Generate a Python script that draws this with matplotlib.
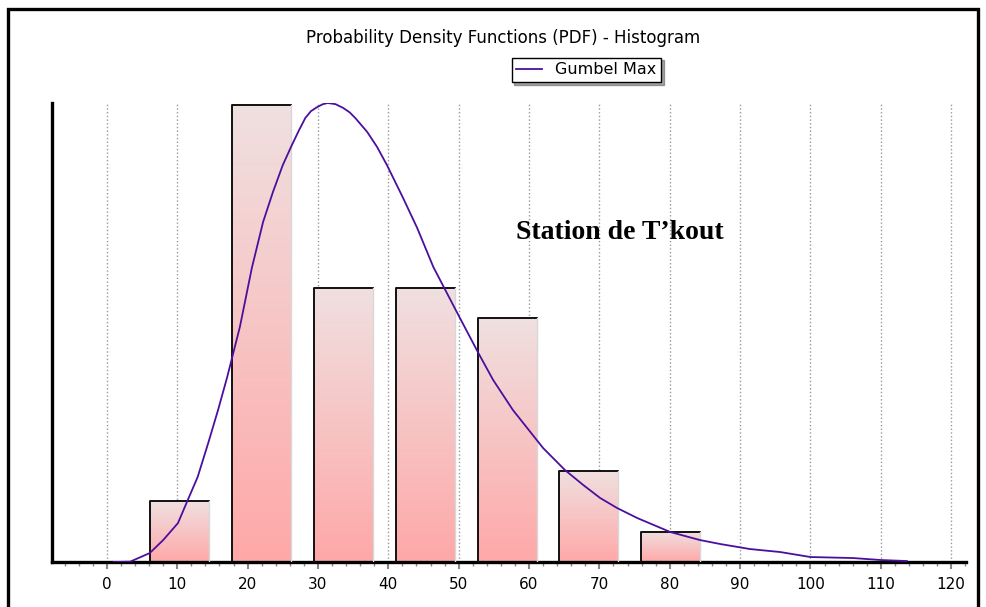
import numpy as np
import matplotlib
matplotlib.use("Agg")
import matplotlib.pyplot as plt
from matplotlib.patches import Rectangle
from matplotlib.ticker import MultipleLocator


# histogram bins (centres) and densities
bin_centers = [10.35, 22.0, 33.65, 45.3, 56.9, 68.5, 80.1]
bin_density = [0.00366, 0.02747, 0.01648, 0.01648, 0.01465, 0.00549, 0.00183]
bar_width = 8.4

# Gumbel Max pdf curve
curve_x = [1.0, 3.3, 6.1, 8.0, 10.1, 11.5, 12.9, 14.4, 15.8, 17.1, 18.9, 20.6,
           22.2, 23.6, 25.0, 26.3, 27.3, 28.2, 29.0, 29.9, 30.7, 31.4, 32.5,
           33.6, 34.5, 35.3, 37.0, 38.4, 39.8, 42.1, 44.1, 46.4, 49.8, 52.8,
           54.9, 57.7, 62.0, 65.1, 67.7, 70.1, 72.5, 75.4, 80.1, 84.3, 87.2,
           91.4, 95.7, 100.0, 106.0, 110.0, 113.7]
curve_y = [0.0, 0.00002, 0.00054, 0.00132, 0.00234, 0.00373, 0.00511, 0.00715,
           0.00914, 0.01112, 0.01413, 0.01767, 0.02044, 0.02224, 0.02386,
           0.02507, 0.02595, 0.02669, 0.02710, 0.02735, 0.02752, 0.02759,
           0.02752, 0.02729, 0.02703, 0.02669, 0.02585, 0.02495, 0.02386,
           0.02188, 0.02008, 0.01773, 0.01497, 0.01256, 0.01094, 0.00914,
           0.00685, 0.00553, 0.00463, 0.00385, 0.00325, 0.00264, 0.00180,
           0.00132, 0.00108, 0.00078, 0.00060, 0.00030, 0.00024, 0.00012,
           0.00006]

x_ticks = list(range(0, 121, 10))

TOP_COLOR = np.array([240, 224, 224]) / 255
BOTTOM_COLOR = np.array([255, 168, 168]) / 255
CURVE_COLOR = "#4b0f9e"


fig = plt.figure(figsize=(9.87, 6.07), dpi=100)
ax = fig.add_axes([0.0527, 0.0741, 0.926, 0.7562])

# outer frame
fig.patches.append(Rectangle((0.0081, -0.05), 0.983, 1.035, transform=fig.transFigure,
                             fill=False, edgecolor="black", linewidth=2.4))

bars = ax.bar(bin_centers, bin_density, width=bar_width, color="none",
              edgecolor="none", zorder=2)

grad = np.linspace(0, 1, 256)[:, None, None]
grad = TOP_COLOR * (1 - grad) + BOTTOM_COLOR * grad

for b in bars:
    x0, x1, h = b.get_x(), b.get_x() + b.get_width(), b.get_height()
    ax.imshow(grad, extent=[x0, x1, 0, h], aspect="auto", origin="upper", zorder=2)
    ax.plot([x0, x0, x1], [0, h, h], color="#111111", linewidth=1.4, zorder=3,
            solid_capstyle="projecting")
    ax.plot([x1, x1], [0, h], color="#d8d8d8", linewidth=1.0, zorder=3)

ax.plot(curve_x, curve_y, color=CURVE_COLOR, linewidth=1.3, zorder=4,
        label="Gumbel Max")

ax.set_xlim(-7.8, 122.1)
ax.set_ylim(0, 0.02759)

ax.set_xticks(x_ticks)
ax.xaxis.set_minor_locator(MultipleLocator(2))
ax.set_yticks([])
ax.tick_params(axis="x", which="major", length=5, width=1.5, color="#888888",
               labelsize=11, pad=6)
ax.tick_params(axis="x", which="minor", length=3, width=1, color="#888888")
ax.grid(axis="x", which="major", linestyle=":", color="#999999", linewidth=1,
        zorder=0)
ax.set_axisbelow(True)

for side in ["top", "right"]:
    ax.spines[side].set_visible(False)
ax.spines["left"].set_linewidth(2.4)
ax.spines["bottom"].set_linewidth(2.4)

fig.text(0.51, 0.938, "Probability Density Functions (PDF) - Histogram",
         ha="center", va="center", fontsize=12)

leg = fig.legend(loc="center", bbox_to_anchor=(0.594, 0.885), fontsize=11.5,
                 frameon=True, fancybox=False, shadow=True, handlelength=1.6,
                 borderpad=0.3)
leg.get_frame().set_edgecolor("black")
leg.get_frame().set_linewidth(1.0)

ax.text(58.2, 0.0198, "Station de T\u2019kout", fontsize=20,
        fontweight="bold", family="Liberation Serif", ha="left", va="center")

fig.savefig("out.png", dpi=100)
